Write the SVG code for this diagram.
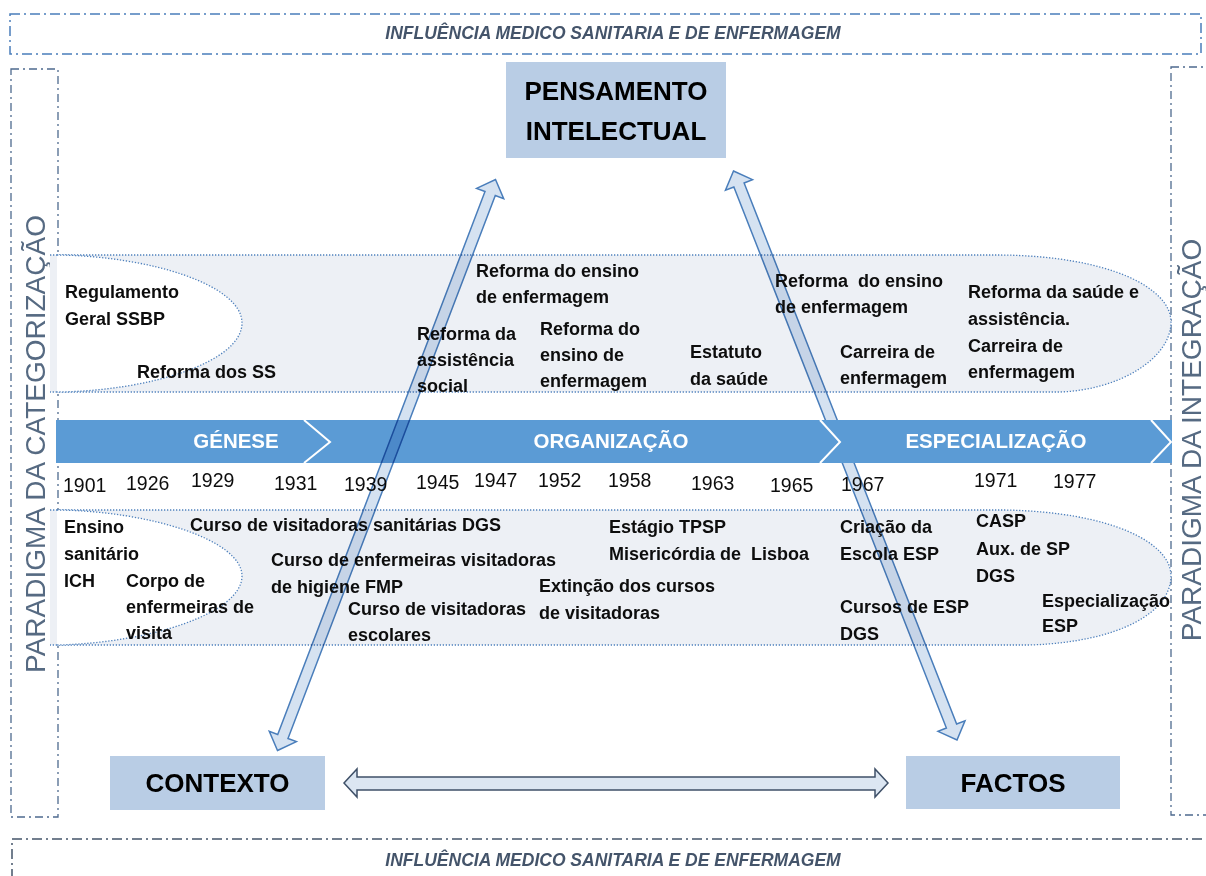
<svg xmlns="http://www.w3.org/2000/svg" width="1206" height="876" viewBox="0 0 1206 876">
<style>
.lbl{font-family:"Liberation Sans",Arial,sans-serif;font-weight:bold;font-size:18px;fill:#0d0d0d}
.yr{font-family:"Liberation Sans",Arial,sans-serif;font-size:19.5px;fill:#0d0d0d}
.ban{fill:none;stroke:#4a7ebb;stroke-width:1.5;stroke-dasharray:10 4 2 4}
.banb{fill:none;stroke:#44546a;stroke-width:1.5;stroke-dasharray:10 4 2 4}
.side{fill:none;stroke:#4e6a8e;stroke-width:1.3;stroke-dasharray:8 4 2 4}
.bant{font-family:"Liberation Sans",Arial,sans-serif;font-weight:bold;font-style:italic;font-size:17.5px;fill:#44546a;text-anchor:middle}
.para{font-family:"Liberation Sans",Arial,sans-serif;font-size:28px;fill:#566a82;text-anchor:middle}
.reg{fill:#edf0f5;stroke:none}
.dot{fill:none;stroke:#4f81bd;stroke-width:1.3;stroke-dasharray:1.3 1.7}
.box{fill:#b9cde5}
.boxt{font-family:"Liberation Sans",Arial,sans-serif;font-weight:bold;font-size:26px;fill:#000;text-anchor:middle}
.phase{font-family:"Liberation Sans",Arial,sans-serif;font-weight:bold;font-size:20.5px;fill:#fff;text-anchor:middle}
.chev{fill:none;stroke:#fff;stroke-width:2}
.darr{fill:#d5e2f1;stroke:#4a7ebb;stroke-width:1.5;mix-blend-mode:multiply}
.harr{fill:#dce6f2;stroke:#3f5068;stroke-width:1.5}
</style>
<defs>
<clipPath id="noband"><path clip-rule="evenodd" d="M0,0H1206V876H0Z M700,420V463H1000V420Z"/></clipPath>
</defs>

<rect width="1206" height="876" fill="#fff"/>

<g id="banner-top">
<rect class="ban" x="10" y="14" width="1191" height="40"/>
<text class="bant" x="613" y="39">INFLUÊNCIA MEDICO SANITARIA E DE ENFERMAGEM</text>
</g>
<g id="banner-bottom">
<rect class="banb" x="12" y="839" width="1200" height="60"/>
<text class="bant" x="613" y="866">INFLUÊNCIA MEDICO SANITARIA E DE ENFERMAGEM</text>
</g>
<g id="paradigma-categorizacao">
<rect class="side" x="11" y="69" width="47" height="748"/>
<text class="para" transform="translate(45,444) rotate(-90)">PARADIGMA DA CATEGORIZAÇÃO</text>
</g>
<g id="paradigma-integracao">
<rect class="side" x="1171" y="67" width="60" height="748"/>
<text class="para" transform="translate(1201,440) rotate(-90)">PARADIGMA DA INTEGRAÇÃO</text>
</g>

<g id="regiao-superior">
<path class="reg" d="M50,255 L1000,255 C1110,256 1171,288 1171,322 C1171,358 1120,390 1060,392 L50,392 Z"/>
<path class="dot" d="M50,255 L1000,255 C1110,256 1171,288 1171,322 C1171,358 1120,390 1060,392 L50,392"/>
<path fill="#fff" d="M57,255 C150,256 242,285 242,323 C242,362 150,391 57,392 Z"/>
<path class="dot" d="M57,255 C150,256 242,285 242,323 C242,362 150,391 57,392"/>
</g>
<g id="regiao-inferior">
<path class="reg" d="M50,510 L1005,510 C1110,512 1171,542 1171,576 C1171,612 1120,642 1030,645 L50,645 Z"/>
<path class="dot" d="M50,510 L1005,510 C1110,512 1171,542 1171,576 C1171,612 1120,642 1030,645 L50,645"/>
<path fill="#fff" d="M57,510 C150,511 242,540 242,576 C242,613 150,643 57,645 Z"/>
<path class="dot" d="M57,510 C150,511 242,540 242,576 C242,613 150,643 57,645"/>
</g>

<g id="connectors">
<polygon class="darr" clip-path="url(#noband)" points="733.5,171 752.48,179.66 744.10,182.95 956.64,724.03 965.02,720.74 957,740 938.02,731.34 946.40,728.05 733.86,186.97 725.48,190.26"/>
<polygon class="harr" points="344,783 357,769 357,777 875,777 875,769 888,783 875,797 875,790 357,790 357,797"/>
</g>

<g id="timeline">
<rect x="56" y="420" width="1116" height="43" fill="#5b9bd5"/>
<polyline class="chev" points="304,420 330,442 304,463"/>
<polyline class="chev" points="820,420 840,442 820,463"/>
<polyline class="chev" points="1151,420 1171,442 1151,463"/>
<text class="phase" x="236" y="448">GÉNESE</text>
<text class="phase" x="611" y="448">ORGANIZAÇÃO</text>
<text class="phase" x="996" y="448">ESPECIALIZAÇÃO</text>
</g>

<g id="anos">
<text class="yr" x="63" y="492">1901</text>
<text class="yr" x="126" y="490">1926</text>
<text class="yr" x="191" y="487">1929</text>
<text class="yr" x="274" y="490">1931</text>
<text class="yr" x="344" y="491">1939</text>
<text class="yr" x="416" y="489">1945</text>
<text class="yr" x="474" y="487">1947</text>
<text class="yr" x="538" y="487">1952</text>
<text class="yr" x="608" y="487">1958</text>
<text class="yr" x="691" y="490">1963</text>
<text class="yr" x="770" y="492">1965</text>
<text class="yr" x="841" y="491">1967</text>
<text class="yr" x="974" y="487">1971</text>
<text class="yr" x="1053" y="488">1977</text>
</g>

<g id="eventos-legislacao">
<text class="lbl" x="65" y="298">Regulamento</text>
<text class="lbl" x="65" y="325">Geral SSBP</text>
<text class="lbl" x="137" y="378">Reforma dos SS</text>
<text class="lbl" x="476" y="277">Reforma do ensino</text>
<text class="lbl" x="476" y="303">de enfermagem</text>
<text class="lbl" x="417" y="340">Reforma da</text>
<text class="lbl" x="417" y="366">assistência</text>
<text class="lbl" x="417" y="392">social</text>
<text class="lbl" x="540" y="335">Reforma do</text>
<text class="lbl" x="540" y="361">ensino de</text>
<text class="lbl" x="540" y="387">enfermagem</text>
<text class="lbl" x="690" y="358">Estatuto</text>
<text class="lbl" x="690" y="385">da saúde</text>
<text class="lbl" x="775" y="287" xml:space="preserve">Reforma  do ensino</text>
<text class="lbl" x="775" y="313">de enfermagem</text>
<text class="lbl" x="840" y="358">Carreira de</text>
<text class="lbl" x="840" y="384">enfermagem</text>
<text class="lbl" x="968" y="298">Reforma da saúde e</text>
<text class="lbl" x="968" y="325">assistência.</text>
<text class="lbl" x="968" y="352">Carreira de</text>
<text class="lbl" x="968" y="378">enfermagem</text>
</g>

<g id="eventos-ensino">
<text class="lbl" x="64" y="533">Ensino</text>
<text class="lbl" x="64" y="560">sanitário</text>
<text class="lbl" x="64" y="587">ICH</text>
<text class="lbl" x="126" y="587">Corpo de</text>
<text class="lbl" x="126" y="613">enfermeiras de</text>
<text class="lbl" x="126" y="639">visita</text>
<text class="lbl" x="190" y="531">Curso de visitadoras sanitárias DGS</text>
<text class="lbl" x="271" y="566">Curso de enfermeiras visitadoras</text>
<text class="lbl" x="271" y="593">de higiene FMP</text>
<text class="lbl" x="348" y="615">Curso de visitadoras</text>
<text class="lbl" x="348" y="641">escolares</text>
<text class="lbl" x="539" y="592">Extinção dos cursos</text>
<text class="lbl" x="539" y="619">de visitadoras</text>
<text class="lbl" x="609" y="533">Estágio TPSP</text>
<text class="lbl" x="609" y="560" xml:space="preserve">Misericórdia de  Lisboa</text>
<text class="lbl" x="840" y="533">Criação da</text>
<text class="lbl" x="840" y="560">Escola ESP</text>
<text class="lbl" x="840" y="613">Cursos de ESP</text>
<text class="lbl" x="840" y="640">DGS</text>
<text class="lbl" x="976" y="527">CASP</text>
<text class="lbl" x="976" y="555">Aux. de SP</text>
<text class="lbl" x="976" y="582">DGS</text>
<text class="lbl" x="1042" y="607">Especialização</text>
<text class="lbl" x="1042" y="632">ESP</text>
</g>

<g id="connectors-left">
<polygon class="darr" points="277.5,750.5 296.40,741.66 287.99,738.45 495.29,195.47 503.70,198.68 495.5,179.5 476.60,188.34 485.01,191.55 277.71,734.53 269.30,731.32"/>
</g>

<g id="node-pensamento">
<rect class="box" x="506" y="62" width="220" height="96"/>
<text class="boxt" x="616" y="100">PENSAMENTO</text>
<text class="boxt" x="616" y="140">INTELECTUAL</text>
</g>
<g id="node-contexto">
<rect class="box" x="110" y="756" width="215" height="54"/>
<text class="boxt" x="217.5" y="792">CONTEXTO</text>
</g>
<g id="node-factos">
<rect class="box" x="906" y="756" width="214" height="53"/>
<text class="boxt" x="1013" y="792">FACTOS</text>
</g>
</svg>
